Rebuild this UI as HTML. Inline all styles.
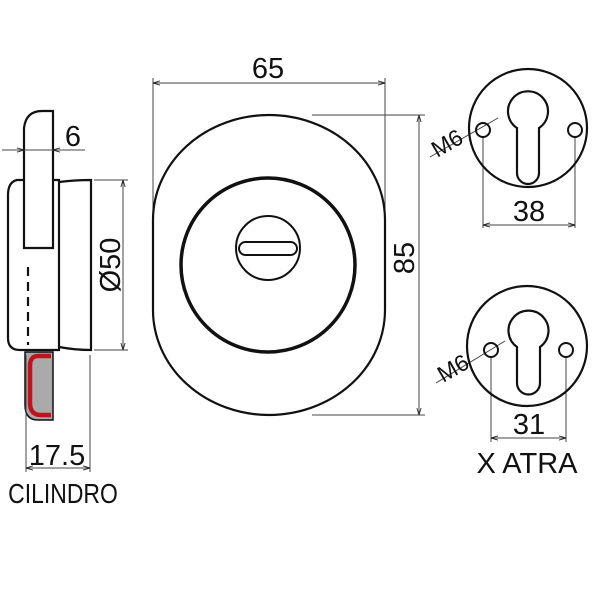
<!DOCTYPE html>
<html><head><meta charset="utf-8"><style>
html,body{margin:0;padding:0;background:#fff}
svg{display:block}
text{font-family:"Liberation Sans",sans-serif;fill:#111}
</style></head><body>
<svg width="600" height="600" viewBox="0 0 600 600" xmlns="http://www.w3.org/2000/svg">
<defs>
<marker id="a" viewBox="0 0 10 10" refX="10" refY="5" markerWidth="7" markerHeight="7" orient="auto-start-reverse"><path d="M0,2 L10,5 L0,8" fill="none" stroke="#222" stroke-width="1.2"/></marker>
</defs>
<g fill="none" stroke="#111" stroke-width="2.2">
<path d="M24,248 V128 Q26,111 42,111 H53 V248 Z"/>
<path d="M24,180 H17 Q8,182 8,195 V338 Q8,350 20,350 H59 V180 H53"/>
<path d="M59,182 Q75,180 91,180 V350 Q75,350 59,347"/>
<line x1="28" y1="267" x2="28" y2="345" stroke-dasharray="9,6"/>
</g>
<path d="M25,352 H53 V420 H38 Q25,420 25,405 Z" fill="#aaa" stroke="#111" stroke-width="1.5"/>
<path d="M51,356 H38 Q30,356 30,366 V403 Q30,415 41,415 H51" fill="none" stroke="#c0141c" stroke-width="4.5"/>
<g stroke="#444" stroke-width="1" fill="none">
<line x1="2" y1="150" x2="24" y2="150" marker-end="url(#a)"/>
<line x1="85" y1="150" x2="53" y2="150" marker-end="url(#a)"/>
<line x1="24" y1="150" x2="53" y2="150"/>
<line x1="94" y1="180" x2="128" y2="180"/>
<line x1="94" y1="350" x2="128" y2="350"/>
<line x1="123" y1="180" x2="123" y2="350" marker-start="url(#a)" marker-end="url(#a)"/>
<line x1="26" y1="355" x2="26" y2="472"/>
<line x1="90" y1="355" x2="90" y2="472"/>
<line x1="26" y1="468" x2="90" y2="468" marker-start="url(#a)" marker-end="url(#a)"/>
<line x1="153" y1="78" x2="153" y2="210"/>
<line x1="385" y1="78" x2="385" y2="212"/>
<line x1="153" y1="83" x2="385" y2="83" marker-start="url(#a)" marker-end="url(#a)"/>
<line x1="312" y1="115" x2="425" y2="115"/>
<line x1="312" y1="415" x2="425" y2="415"/>
<line x1="419" y1="115" x2="419" y2="415" marker-start="url(#a)" marker-end="url(#a)"/>
<line x1="483" y1="137" x2="483" y2="228"/>
<line x1="575" y1="137" x2="575" y2="228"/>
<line x1="483" y1="225" x2="575" y2="225" marker-start="url(#a)" marker-end="url(#a)"/>
<line x1="430" y1="157" x2="498" y2="118"/>
<line x1="491" y1="357" x2="491" y2="442"/>
<line x1="566" y1="357" x2="566" y2="442"/>
<line x1="491" y1="438" x2="566" y2="438" marker-start="url(#a)" marker-end="url(#a)"/>
<line x1="436" y1="383" x2="505" y2="341"/>
</g>
<g fill="none" stroke="#111">
<path d="M153,220 A116,105 0 0 1 385,220 V310 A116,105 0 0 1 153,310 Z" stroke-width="2.2"/>
<circle cx="268" cy="265" r="87" stroke-width="3.5"/>
<circle cx="268" cy="248" r="32" stroke-width="2"/>
<rect x="239" y="242" width="58" height="13" rx="6.5" stroke-width="2"/>
<circle cx="528" cy="128" r="59" stroke-width="2.2"/>
<path d="M517,173 V128 A20,20 0 1 1 539,128 V173 A11,11 0 0 1 517,173 Z" stroke-width="2.2"/>
<circle cx="483" cy="130" r="7" stroke-width="2"/>
<circle cx="575" cy="130" r="7" stroke-width="2"/>
<circle cx="527" cy="346" r="60" stroke-width="2.2"/>
<path d="M517,383 V347 A20,20 0 1 1 540,347 V383 A11.5,11.5 0 0 1 517,383 Z" stroke-width="2.2"/>
<circle cx="491" cy="350" r="7" stroke-width="2"/>
<circle cx="566" cy="350" r="7" stroke-width="2"/>
</g>
<g font-size="29">
<text x="73" y="146" text-anchor="middle">6</text>
<text transform="translate(120,265) rotate(-90)" text-anchor="middle">Ø50</text>
<text x="57" y="465" text-anchor="middle">17.5</text>
<text transform="translate(63,503) scale(0.82,1)" text-anchor="middle" font-size="28">CILINDRO</text>
<text x="268" y="78" text-anchor="middle">65</text>
<text transform="translate(414,258) rotate(-90)" text-anchor="middle">85</text>
<text x="529" y="221" text-anchor="middle">38</text>
<text x="529" y="434" text-anchor="middle">31</text>
<text x="527" y="473" text-anchor="middle">X ATRA</text>
</g>
<g font-size="23">
<text transform="translate(451,150) rotate(-30)" text-anchor="middle">M6</text>
<text transform="translate(457,375) rotate(-30)" text-anchor="middle">M6</text>
</g>
</svg>
</body></html>
